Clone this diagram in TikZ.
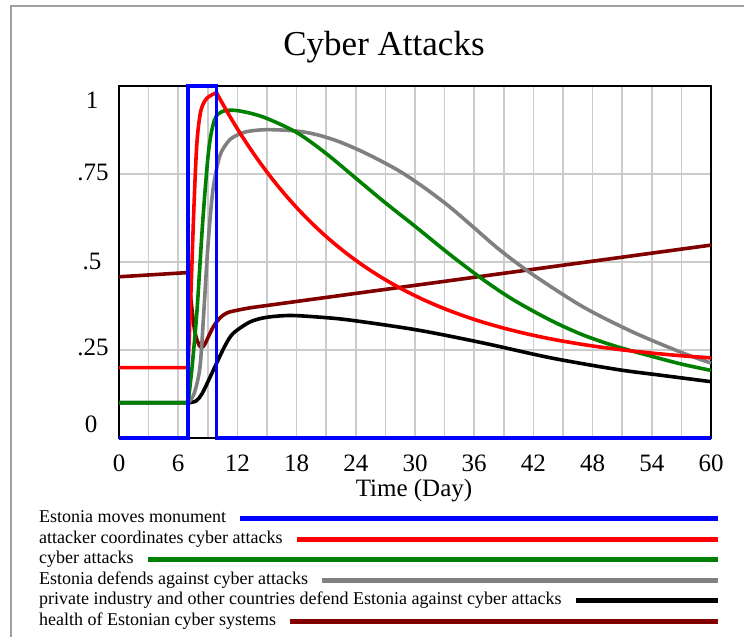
\documentclass[tikz,border=0pt]{standalone}
\usepackage{fontspec}
\setmainfont{Liberation Serif}
\definecolor{gridgray}{RGB}{204,204,204}
\definecolor{framegray}{RGB}{160,160,160}
\definecolor{cgreen}{RGB}{0,128,0}
\definecolor{cgray}{RGB}{128,128,128}
\definecolor{cdarkred}{RGB}{128,0,0}
\definecolor{cblue}{RGB}{0,0,255}
\definecolor{cred}{RGB}{255,0,0}
\begin{document}
\begin{tikzpicture}[x=1pt,y=1pt,
  gridline/.style={draw=gridgray, line width=1.6pt},
  curve/.style={line width=3.6pt, line join=round},
  legline/.style={line width=5pt},
  ticklabel/.style={font=\fontsize{25}{28}\selectfont, inner sep=0pt},
  legtext/.style={font=\fontsize{18}{20}\selectfont, inner sep=0pt, anchor=west, text height=12pt, text depth=4pt}]
\useasboundingbox (0,0) rectangle (744,637);
\fill[white] (0,0) rectangle (744,637);
\draw[framegray, line width=2pt] (11,0) -- (11,631) -- (744,631);
\node[font=\fontsize{35}{40}\selectfont, inner sep=0pt] (title) at (384,590) {Cyber Attacks};
% y labels
\node[ticklabel] (y1) at (92,537) {1};
\node[ticklabel] (y75) at (93,465) {.75};
\node[ticklabel] (y5) at (92,376) {.5};
\node[ticklabel] (y25) at (93,290) {.25};
\node[ticklabel] (y0) at (91,213) {0};
% x labels
\foreach \t [count=\i] in {0,6,12,18,24,30,36,42,48,54,60}{
  \node[ticklabel] (x\i) at ({119+\t*9.8667},174) {\t};
}
\node[ticklabel] (xlabel) at (414,146) {Time (Day)};
\begin{scope}[shift={(119,199)}, x=9.8667pt, y=352pt]
  \foreach \t in {3,6,...,57} \draw[gridline] (\t,0) -- (\t,1);
  \foreach \v in {0.25,0.5,0.75} \draw[gridline] (0,\v) -- (60,\v);
  \draw[black, line width=2pt] (0,0) rectangle (60,1);
  % health of Estonian cyber systems
  \draw[curve, cdarkred] (0,0.458) -- (7,0.47) -- plot[smooth, tension=0.5] coordinates {(7,0.47) (7.3,0.39) (7.7,0.3) (8.2,0.26) (8.6,0.262) (9.1,0.29) (9.6,0.318) (10.3,0.343) (11,0.356) (12,0.363) (13.3,0.37)} -- (60,0.548);
  % private industry
  \draw[curve, black] (0,0.1) -- (7,0.1) -- plot[smooth, tension=0.5] coordinates {(7,0.1) (7.8,0.105) (8.4,0.125) (9.1,0.165) (9.9,0.213) (10.8,0.265) (11.6,0.298) (13.3,0.33) (15,0.343) (17.3,0.348) (20,0.344) (23.4,0.335) (30.2,0.307) (36.9,0.27) (43.7,0.228) (50.4,0.195) (55,0.178) (60,0.16)};
  % Estonia defends
  \draw[curve, cgray] (0,0.1) -- (7,0.1) -- plot[smooth, tension=0.5] coordinates {(7,0.1) (7.6,0.125) (8.2,0.2) (8.6,0.36) (9,0.54) (9.5,0.7) (10.2,0.8) (11,0.84) (11.6,0.855) (12.9,0.87) (15,0.876) (18,0.872) (20,0.862) (22,0.845) (24,0.822) (26,0.795) (28.5,0.757) (31,0.71) (33.5,0.657) (36,0.597) (38.6,0.534) (42,0.463) (47,0.373) (52,0.302) (57,0.243) (60,0.213)};
  % cyber attacks
  \draw[curve, cgreen] (0,0.1) -- (7,0.1) -- plot[smooth, tension=0.5] coordinates {(7,0.1) (7.4,0.2) (7.9,0.36) (8.5,0.62) (9.1,0.82) (9.7,0.905) (10.5,0.928) (12,0.93) (14.6,0.912) (18,0.868) (21,0.808) (24,0.738) (27,0.668) (30.2,0.597) (33.5,0.522) (36.9,0.45) (40,0.392) (43.7,0.335) (47,0.293) (50.4,0.26) (54,0.232) (57,0.21) (60,0.192)};
  % attacker coordinates
  \draw[curve, cred] (0,0.2) -- (7,0.2) -- plot[smooth, tension=0.5] coordinates {(7,0.2) (7.3,0.42) (7.6,0.66) (7.9,0.84) (8.3,0.93) (8.9,0.965) (9.8,0.98)} -- plot[domain=9.9:60, samples=80] (\x, {0.2+0.78*exp(-(\x-9.9)/15)});
  % Estonia moves monument
  \draw[curve, cblue, line join=miter] (0,0) -- (7,0) -- (7,1) -- (9.9,1) -- (9.9,0) -- (60,0);
\end{scope}
% legend
\node[legtext] (l1) at (39,118) {Estonia moves monument};
\node[legtext] (l2) at (39,97.5) {attacker coordinates cyber attacks};
\node[legtext] (l3) at (39,77) {cyber attacks};
\node[legtext] (l4) at (39,56.5) {Estonia defends against cyber attacks};
\node[legtext] (l5) at (39,36) {private industry and other countries defend Estonia against cyber attacks};
\node[legtext] (l6) at (39,15.5) {health of Estonian cyber systems};
\coordinate (e1) at (718,118);
\coordinate (e2) at (718,97.5);
\coordinate (e3) at (718,77);
\coordinate (e4) at (718,56.5);
\coordinate (e5) at (718,36);
\coordinate (e6) at (718,15.5);
\draw[legline, cblue] ([xshift=14pt]l1.east) -- (e1);
\draw[legline, cred] ([xshift=14pt]l2.east) -- (e2);
\draw[legline, cgreen] ([xshift=14pt]l3.east) -- (e3);
\draw[legline, cgray] ([xshift=14pt]l4.east) -- (e4);
\draw[legline, black] ([xshift=14pt]l5.east) -- (e5);
\draw[legline, cdarkred] ([xshift=14pt]l6.east) -- (e6);
\end{tikzpicture}
\end{document}
